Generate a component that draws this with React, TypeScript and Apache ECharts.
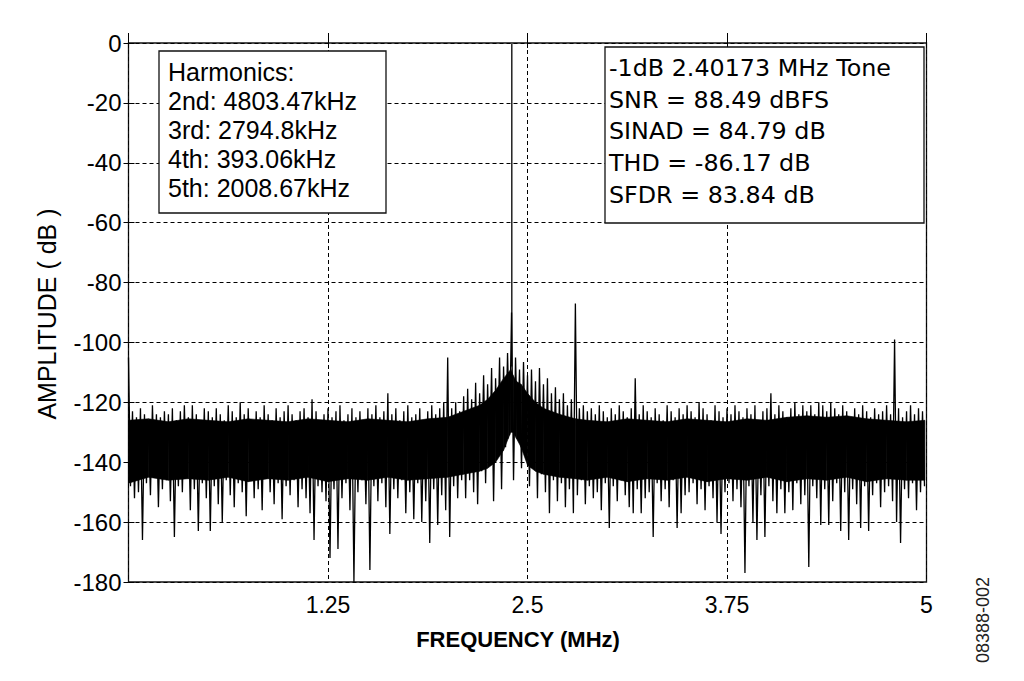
import React, { useEffect, useRef } from "react";
import * as echarts from "echarts";

// ---- data ----
const xTickStepMHz = 1.25;
const binWidthMHz = 0.025;

// per-bin maximum (dB) at f = i * binWidth
const peakDb = [
  -105, -123, -125, -122, -124, -126, -121, -124, -125, -123,
  -124, -122, -126, -123, -121, -125, -121, -124, -126, -122,
  -123, -125, -122, -124, -126, -121, -123, -125, -120, -124,
  -122, -126, -123, -125, -121, -124, -126, -122, -125, -123,
  -121, -124, -126, -123, -122, -125, -119, -123, -126, -124,
  -122, -125, -123, -121, -126, -124, -122, -125, -123, -126,
  -122, -124, -121, -125, -123, -117, -124, -122, -126, -123,
  -121, -125, -124, -122, -126, -123, -121, -124, -122, -120,
  -105, -122, -120, -123, -118, -115.5, -119, -113.5, -117, -111,
  -114, -108.5, -112, -105, -108, -103.5, -90, -105, -109, -106.5,
  -111, -109, -113, -108.5, -114, -112, -117, -115, -119, -117,
  -121, -119, -87, -122, -121, -123, -122, -124, -121, -123,
  -125, -122, -124, -121, -123, -125, -122, -112, -124, -121,
  -123, -125, -122, -124, -126, -121, -123, -125, -122, -124,
  -121, -123, -125, -120, -122, -124, -126, -121, -123, -125,
  -122, -124, -121, -123, -125, -122, -124, -121, -126, -123,
  -122, -117, -124, -121, -123, -125, -122, -120, -124, -121,
  -123, -121, -124, -120, -121, -123, -120, -122, -124, -121,
  -123, -125, -122, -124, -121, -123, -125, -122, -124, -123,
  -121, -124, -99, -122, -125, -123, -121, -124, -122, -123,
];

// per-bin minimum (dB) at f = i * binWidth + binWidth / 2
const troughDb = [
  -148, -152, -150, -166, -147, -151, -145, -155, -149, -146,
  -153, -165, -148, -150, -145, -156, -149, -163, -147, -152,
  -163, -148, -154, -160, -146, -151, -155, -147, -150, -158,
  -146, -152, -149, -156, -145, -150, -154, -147, -159, -148,
  -151, -146, -155, -149, -152, -157, -166, -148, -150, -153,
  -172, -149, -169, -152, -147, -156, -180, -150, -146, -154,
  -176, -148, -153, -147, -155, -164, -149, -152, -146, -157,
  -150, -159, -147, -160, -153, -167, -149, -161, -151, -156,
  -165, -148, -152, -146, -152, -146, -150, -154, -143, -147,
  -140, -153, -138, -149, -135, -131, -146, -132, -142, -137,
  -148, -141, -152, -144, -150, -157, -146, -153, -147, -155,
  -149, -157, -151, -146, -154, -148, -152, -150, -156, -147,
  -162, -148, -153, -146, -151, -155, -157, -149, -157, -152,
  -150, -165, -147, -153, -149, -155, -146, -162, -157, -151,
  -150, -147, -154, -149, -156, -148, -152, -160, -164, -150,
  -147, -153, -149, -155, -177, -148, -160, -166, -151, -165,
  -148, -153, -157, -149, -157, -150, -156, -147, -154, -151,
  -175, -148, -152, -161, -149, -161, -153, -147, -163, -150,
  -166, -149, -154, -162, -148, -163, -151, -147, -155, -150,
  -148, -153, -160, -167, -149, -152, -147, -156, -150, -148,
];

// dense noise core (solid band)
const coreFreq = [
  0, 0.125, 0.25, 0.375, 0.5, 0.625, 0.75, 0.875, 1.0, 1.125, 1.25, 1.375, 1.5, 1.625, 1.75, 1.875, 2.0,
  2.1, 2.2, 2.25, 2.3, 2.35, 2.38, 2.395, 2.41, 2.43, 2.46, 2.5, 2.55, 2.6, 2.7, 2.8,
  2.875, 3.0, 3.125, 3.25, 3.375, 3.5, 3.625, 3.75, 3.875, 4.0, 4.125, 4.25, 4.375, 4.5, 4.625, 4.75, 4.875,
  4.99,
];
const coreTopDb = [
  -126, -125.5, -126.5, -125.5, -126, -126.5, -125.5, -126, -126.5, -125.5, -126, -126.5, -125.5, -126, -126.5, -125.5, -125,
  -123, -121, -119, -116, -112, -110, -109, -111, -113, -114, -117, -120, -122, -124, -125.5,
  -126, -126.5, -125.5, -126, -126.5, -125.5, -126, -126.5, -125.5, -126, -125, -124.5, -125, -124.5, -125.5, -126, -126.5,
  -126,
];
const coreBottomDb = [
  -147, -145, -146, -145.5, -146, -145, -146.5, -145.5, -146, -145, -146.5, -145.5, -146, -145, -146, -145.5, -145,
  -144, -143, -142, -140, -136, -132, -130, -130, -132, -135, -141, -143, -144, -145, -145.5,
  -146, -145, -146.5, -145.5, -146, -145, -146.5, -145.5, -146, -145, -146.5, -145.5, -146, -145, -146.5, -145.5, -146,
  -146,
];

const toneFreqMHz = 2.40173;
const tonePeakDb = -0.3;
const toneBaseDb = -108;

const harmonicsLines = ["Harmonics:", "2nd: 4803.47kHz", "3rd: 2794.8kHz", "4th: 393.06kHz", "5th: 2008.67kHz"];
const statsLines = ["-1dB 2.40173 MHz Tone", "SNR = 88.49 dBFS", "SINAD = 84.79 dB", "THD = -86.17 dB", "SFDR = 83.84 dB"];

const ARIAL = "'Liberation Sans', Arial, sans-serif";
const TAHOMA = "'DejaVu Sans', Verdana, sans-serif";

export default function App() {
  const ref = useRef<HTMLDivElement>(null);

  useEffect(() => {
    if (!ref.current) return;
    const chart = echarts.init(ref.current, undefined, { renderer: "svg" });

    const noise: [number, number][] = [];
    for (let i = 0; i < peakDb.length; i++) {
      noise.push([i * binWidthMHz, peakDb[i]]);
      noise.push([i * binWidthMHz + binWidthMHz / 2, troughDb[i]]);
    }

    const coreSegments: number[][] = [];
    for (let i = 0; i < coreFreq.length - 1; i++) {
      coreSegments.push([
        coreFreq[i], coreTopDb[i], coreBottomDb[i],
        coreFreq[i + 1], coreTopDb[i + 1], coreBottomDb[i + 1],
      ]);
    }

    const harmonicsText = harmonicsLines.map((t, i) => ({
      type: "text",
      x: 168,
      y: 71.5 + i * 29.2,
      z: 110,
      style: {
        text: t,
        fontFamily: ARIAL,
        fontSize: 25,
        fill: "#000",
        align: "left",
        verticalAlign: "middle",
        textAlign: "left",
        textVerticalAlign: "middle",
      },
    }));
    const statsText = statsLines.map((t, i) => ({
      type: "text",
      x: 609,
      y: 67.7 + i * 31.8,
      z: 110,
      style: {
        text: t,
        fontFamily: TAHOMA,
        fontSize: 23.8,
        fill: "#000",
        align: "left",
        verticalAlign: "middle",
        textAlign: "left",
        textVerticalAlign: "middle",
      },
    }));

    chart.setOption({
      animation: false,
      backgroundColor: "#fff",
      grid: {
        left: 128.5,
        right: 97.5,
        top: 43,
        bottom: 99,
        show: true,
        borderColor: "#111",
        borderWidth: 1.3,
        backgroundColor: "transparent",
      },
      xAxis: [
        {
          type: "value",
          min: 0,
          max: 5,
          interval: xTickStepMHz,
          axisLine: { show: false },
          axisTick: { show: true, inside: true, length: 10, lineStyle: { color: "#000" } },
          axisLabel: {
            color: "#000",
            fontFamily: ARIAL,
            fontSize: 23,
            margin: 11,
            formatter: (v: number) => (v === 0 ? "" : String(v)),
          },
          splitLine: { show: true, lineStyle: { color: "#000", type: [4, 3], width: 1 } },
        },
        {
          type: "value",
          position: "top",
          min: 0,
          max: 5,
          interval: xTickStepMHz,
          axisLine: { show: false },
          axisTick: { show: true, inside: true, length: 5, lineStyle: { color: "#000" } },
          axisLabel: { show: false },
          splitLine: { show: false },
        },
      ],
      yAxis: [
        {
          type: "value",
          min: -180,
          max: 0,
          interval: 20,
          axisLine: { show: false },
          axisTick: { show: true, inside: true, length: 6, lineStyle: { color: "#000" } },
          axisLabel: { color: "#000", fontFamily: ARIAL, fontSize: 24, margin: 7 },
          splitLine: { show: true, lineStyle: { color: "#000", type: [4, 3], width: 1 } },
        },
        {
          type: "value",
          position: "right",
          min: -180,
          max: 0,
          interval: 20,
          axisLine: { show: false },
          axisTick: { show: true, inside: true, length: 5, lineStyle: { color: "#000" } },
          axisLabel: { show: false },
          splitLine: { show: false },
        },
      ],
      series: [
        {
          type: "custom",
          name: "core",
          data: coreSegments,
          silent: true,
          z: 2,
          renderItem: (_params: any, api: any) => {
            const p1 = api.coord([api.value(0), api.value(1)]);
            const p2 = api.coord([api.value(3), api.value(4)]);
            const p3 = api.coord([api.value(3), api.value(5)]);
            const p4 = api.coord([api.value(0), api.value(2)]);
            return {
              type: "polygon",
              shape: { points: [p1, p2, p3, p4] },
              style: { fill: "#000", stroke: "#000", lineWidth: 0.6 },
            };
          },
        },
        {
          type: "line",
          name: "spectrum",
          data: noise,
          symbol: "none",
          lineStyle: { color: "#000", width: 1.3 },
          silent: true,
          z: 3,
        },
        {
          type: "line",
          name: "tone",
          data: [
            [toneFreqMHz, toneBaseDb],
            [toneFreqMHz, tonePeakDb],
          ],
          symbol: "none",
          lineStyle: { color: "#000", width: 1.3 },
          silent: true,
          z: 4,
        },
      ],
      graphic: [
        {
          type: "rect",
          z: 100,
          shape: { x: 159, y: 51, width: 227, height: 162 },
          style: { fill: "#fff", stroke: "#111", lineWidth: 1.3 },
        },
        ...harmonicsText,
        {
          type: "rect",
          z: 100,
          shape: { x: 605, y: 47, width: 319, height: 176 },
          style: { fill: "#fff", stroke: "#111", lineWidth: 1.3 },
        },
        ...statsText,
        {
          type: "text",
          x: 47,
          y: 314,
          rotation: Math.PI / 2,
          z: 110,
          style: {
            text: "AMPLITUDE ( dB )",
            fontFamily: ARIAL,
            fontSize: 25,
            fill: "#000",
            align: "center",
            verticalAlign: "middle",
            textAlign: "center",
            textVerticalAlign: "middle",
          },
        },
        {
          type: "text",
          x: 518,
          y: 639,
          z: 110,
          style: {
            text: "FREQUENCY (MHz)",
            fontFamily: ARIAL,
            fontWeight: "bold",
            fontSize: 22,
            fill: "#000",
            align: "center",
            verticalAlign: "middle",
            textAlign: "center",
            textVerticalAlign: "middle",
          },
        },
        {
          type: "text",
          x: 983,
          y: 620,
          rotation: Math.PI / 2,
          z: 110,
          style: {
            text: "08388-002",
            fontFamily: ARIAL,
            fontSize: 18,
            fill: "#222",
            align: "center",
            verticalAlign: "middle",
            textAlign: "center",
            textVerticalAlign: "middle",
          },
        },
      ],
    });

    return () => chart.dispose();
  }, []);

  return (
    <div
      ref={ref}
      style={{ position: "fixed", left: 0, top: 0, width: 1024, height: 681, background: "#fff" }}
    />
  );
}
